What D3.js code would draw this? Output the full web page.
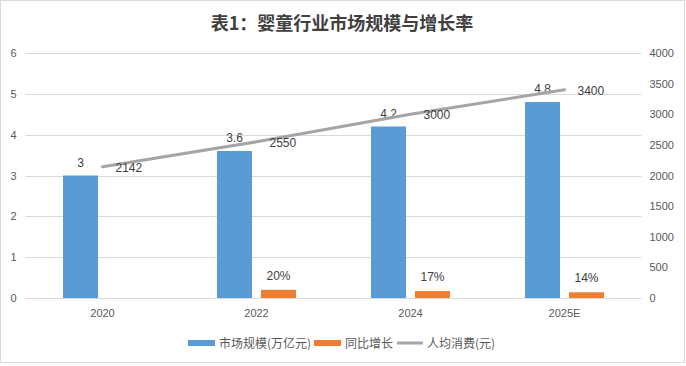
<!DOCTYPE html>
<html><head><meta charset="utf-8">
<script src="https://cdn.jsdelivr.net/npm/d3@7"></script>
<style>
html,body{margin:0;padding:0;background:#fff;}
svg{display:block;}
</style></head>
<body>
<svg id="chart" width="686" height="366"></svg>
<script>
const categories = ["2020", "2022", "2024", "2025E"];
const marketSize = [3, 3.6, 4.2, 4.8];          // 市场规模(万亿元)
const growth = [null, 0.20, 0.17, 0.14];         // 同比增长
const perCapita = [2142, 2550, 3000, 3400];      // 人均消费(元)
const leftTicks = [0, 1, 2, 3, 4, 5, 6];
const rightTicks = [0, 500, 1000, 1500, 2000, 2500, 3000, 3500, 4000];
const seriesNames = ["市场规模(万亿元)", "同比增长", "人均消费(元)"];
const title = "表1：婴童行业市场规模与增长率";

const colors = { blue: "#5b9bd5", orange: "#ed7d31", gray: "#a5a5a5" };
const latin = "'Liberation Sans', Arial, sans-serif";
const cjk = "'Noto Sans CJK SC', 'Liberation Sans', sans-serif";

const svg = d3.select("#chart");
svg.append("rect").attr("x", 0.5).attr("y", 0.5).attr("width", 684).attr("height", 362)
  .attr("fill", "#fff").attr("stroke", "#d9d9d9");

const plot = { left: 25.5, right: 641.5, top: 53, bottom: 298 };

const x0 = d3.scaleBand().domain(categories).range([plot.left, plot.right]).paddingInner(0).paddingOuter(0);
const groupW = 79;
const x1 = d3.scaleBand().domain(["size", "growth"]).range([0, groupW]).paddingInner(9 / 44).paddingOuter(0);
const gOff = (x0.bandwidth() - groupW) / 2;
const yL = d3.scaleLinear().domain([0, 6]).range([plot.bottom, plot.top]);
const yR = d3.scaleLinear().domain([0, 4000]).range([plot.bottom, plot.top]);

// gridlines
svg.append("g").selectAll("line").data(leftTicks).join("line")
  .attr("x1", plot.left).attr("x2", plot.right)
  .attr("y1", d => Math.round(yL(d)) + 0.5).attr("y2", d => Math.round(yL(d)) + 0.5)
  .attr("stroke", "#d9d9d9").attr("stroke-width", 1);

// left axis
const axL = svg.append("g").attr("transform", `translate(${plot.left},0)`)
  .call(d3.axisLeft(yL).tickValues(leftTicks).tickSize(0).tickPadding(9).tickFormat(d3.format("d")));
axL.select(".domain").remove();
axL.selectAll("text").attr("font-family", latin).attr("font-size", 11).attr("fill", "#595959");

// right axis
const axR = svg.append("g").attr("transform", `translate(${plot.right},0)`)
  .call(d3.axisRight(yR).tickValues(rightTicks).tickSize(0).tickPadding(8).tickFormat(d3.format("d")));
axR.select(".domain").remove();
axR.selectAll("text").attr("font-family", latin).attr("font-size", 11).attr("fill", "#595959");

// bottom axis labels
const axB = svg.append("g").attr("transform", `translate(0,${plot.bottom})`)
  .call(d3.axisBottom(x0).tickSize(0).tickPadding(11));
axB.select(".domain").remove();
axB.selectAll("text").attr("font-family", latin).attr("font-size", 11).attr("fill", "#595959");

// bars
const groups = svg.append("g").selectAll("g").data(categories).join("g")
  .attr("transform", d => `translate(${x0(d) + gOff},0)`);

groups.append("rect")
  .attr("x", x1("size")).attr("width", x1.bandwidth())
  .attr("y", (d, i) => yL(marketSize[i])).attr("height", (d, i) => yL(0) - yL(marketSize[i]))
  .attr("fill", colors.blue);

groups.filter((d, i) => growth[i] != null).append("rect")
  .attr("x", x1("growth")).attr("width", x1.bandwidth())
  .attr("y", d => yL(growth[categories.indexOf(d)]))
  .attr("height", d => yL(0) - yL(growth[categories.indexOf(d)]))
  .attr("fill", colors.orange);

// bar labels
groups.append("text")
  .attr("x", x1("size") + x1.bandwidth() / 2)
  .attr("y", (d, i) => yL(marketSize[i]) - 9)
  .attr("text-anchor", "middle").attr("font-family", latin).attr("font-size", 12).attr("fill", "#404040")
  .text((d, i) => marketSize[i]);

groups.filter((d, i) => growth[i] != null).append("text")
  .attr("x", x1("growth") + x1.bandwidth() / 2)
  .attr("y", d => yL(growth[categories.indexOf(d)]) - 10)
  .attr("text-anchor", "middle").attr("font-family", latin).attr("font-size", 12).attr("fill", "#404040")
  .text(d => Math.round(growth[categories.indexOf(d)] * 100) + "%");

// line
const cx = c => x0(c) + x0.bandwidth() / 2;
const line = d3.line().x((d, i) => cx(categories[i])).y(d => yR(d));
svg.append("path").datum(perCapita).attr("d", line)
  .attr("fill", "none").attr("stroke", colors.gray).attr("stroke-width", 3).attr("stroke-linecap", "round");

svg.append("g").selectAll("text").data(perCapita).join("text")
  .attr("x", (d, i) => cx(categories[i]) + 13)
  .attr("y", d => yR(d) + 5)
  .attr("font-family", latin).attr("font-size", 12).attr("fill", "#404040")
  .text(d => d);

// title
svg.append("text").attr("x", 342).attr("y", 30).attr("text-anchor", "middle")
  .attr("font-family", cjk).attr("font-size", 18).attr("font-weight", "bold").attr("fill", "#404040")
  .text(title);

// legend
const lg = svg.append("g").attr("font-family", cjk).attr("font-size", 12).attr("fill", "#595959");
lg.append("rect").attr("x", 188).attr("y", 340).attr("width", 27).attr("height", 6).attr("fill", colors.blue);
lg.append("text").attr("x", 219).attr("y", 347.5).text(seriesNames[0]);
lg.append("rect").attr("x", 314).attr("y", 340).attr("width", 27).attr("height", 6).attr("fill", colors.orange);
lg.append("text").attr("x", 345).attr("y", 347.5).text(seriesNames[1]);
lg.append("line").attr("x1", 397).attr("x2", 423).attr("y1", 343).attr("y2", 343)
  .attr("stroke", colors.gray).attr("stroke-width", 3);
lg.append("text").attr("x", 427).attr("y", 347.5).text(seriesNames[2]);
</script>
</body></html>
